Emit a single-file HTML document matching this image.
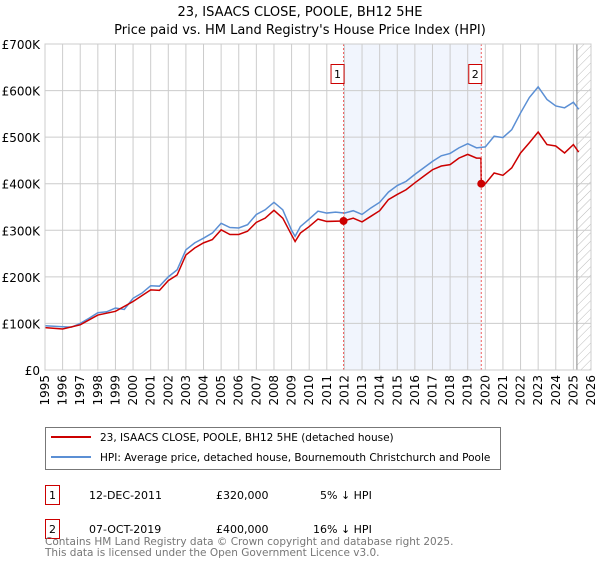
<!DOCTYPE html>
<html><head><meta charset="utf-8"><style>
body{margin:0;background:#fff;font-family:"Liberation Sans","DejaVu Sans",sans-serif;}
svg text{font-family:"DejaVu Sans","Liberation Sans",sans-serif;}
</style></head><body>
<svg id="c" width="600" height="560" xmlns="http://www.w3.org/2000/svg">
<defs><pattern id="hatch" width="6" height="6" patternUnits="userSpaceOnUse" patternTransform="rotate(45)"><line x1="0" y1="0" x2="0" y2="6" stroke="#bbb" stroke-width="1"/></pattern></defs>
<text x="300" y="16" text-anchor="middle" font-size="13">23, ISAACS CLOSE, POOLE, BH12 5HE</text>
<text x="300" y="34" text-anchor="middle" font-size="13">Price paid vs. HM Land Registry's House Price Index (HPI)</text>
<g id="plot"></g>
<g>
<rect x="45.5" y="427.5" width="455" height="42" fill="#fff" stroke="#777"/>
<line x1="51" y1="437" x2="91" y2="437" stroke="#cc0000" stroke-width="2"/>
<text x="100" y="441" font-size="10.5">23, ISAACS CLOSE, POOLE, BH12 5HE (detached house)</text>
<line x1="51" y1="457" x2="91" y2="457" stroke="#5b8fd4" stroke-width="2"/>
<text x="100" y="461" font-size="10.5">HPI: Average price, detached house, Bournemouth Christchurch and Poole</text>
</g>
<g font-size="11">
<rect x="45.5" y="485.5" width="14" height="19" fill="#fff" stroke="#cc0000"/>
<text x="52.5" y="499" text-anchor="middle">1</text>
<text x="89" y="499">12-DEC-2011</text><text x="216" y="499">£320,000</text><text x="320" y="499">5% ↓ HPI</text>
<rect x="45.5" y="519.5" width="14" height="19" fill="#fff" stroke="#cc0000"/>
<text x="52.5" y="533" text-anchor="middle">2</text>
<text x="89" y="533">07-OCT-2019</text><text x="216" y="533">£400,000</text><text x="313" y="533">16% ↓ HPI</text>
</g>
<text x="45" y="545" font-size="10.5" fill="#777">Contains HM Land Registry data © Crown copyright and database right 2025.</text>
<text x="45" y="556" font-size="10.5" fill="#777">This data is licensed under the Open Government Licence v3.0.</text>
</svg>
<script>
const hpiYears=[1995,1996,1996.5,1997,1997.5,1998,1998.5,1999,1999.5,2000,2000.5,2001,2001.5,2002,2002.5,2003,2003.5,2004,2004.5,2005,2005.5,2006,2006.5,2007,2007.5,2008,2008.5,2009,2009.2,2009.5,2010,2010.5,2011,2011.5,2012,2012.5,2013,2013.5,2014,2014.5,2015,2015.5,2016,2016.5,2017,2017.5,2018,2018.5,2019,2019.5,2020,2020.5,2021,2021.5,2022,2022.5,2023,2023.5,2024,2024.5,2025,2025.3];
const hpiValues=[95,93,92,100,111,123,125,133,130,154,165,181,180,200,215,258,273,283,294,315,306,305,312,334,344,360,344,300,287,308,324,341,337,339,337,342,334,348,360,382,396,405,420,434,448,460,465,477,486,477,479,502,499,516,552,585,608,581,567,563,575,560];
const priceYears=[1995,1996,1997,1998,1999,2000,2001,2001.5,2002,2002.5,2003,2003.5,2004,2004.5,2005,2005.5,2006,2006.5,2007,2007.5,2008,2008.5,2009,2009.2,2009.5,2010,2010.5,2011,2011.95,2012.5,2013,2013.5,2014,2014.5,2015,2015.5,2016,2016.5,2017,2017.5,2018,2018.5,2019,2019.5,2019.75,2019.77,2020,2020.5,2021,2021.5,2022,2022.5,2023,2023.5,2024,2024.5,2025,2025.3];
const priceValues=[91,88,97,118,126,147,172,171,192,204,247,262,273,280,301,291,291,298,317,326,343,326,290,276,294,308,324,319,320,326,318,330,342,366,377,387,402,416,430,438,441,455,463,455,455,400,400,423,418,434,466,488,511,484,481,466,484,468];
const saleYears=[2011.95,2019.77];
const saleValues=[320,400];
const saleLabels=["1","2"];
const yTicks=[0,100,200,300,400,500,600,700];
const yTickLabels=["£0","£100K","£200K","£300K","£400K","£500K","£600K","£700K"];
const xTicks=[1995,1996,1997,1998,1999,2000,2001,2002,2003,2004,2005,2006,2007,2008,2009,2010,2011,2012,2013,2014,2015,2016,2017,2018,2019,2020,2021,2022,2023,2024,2025,2026];

const X0=45,X1=591,Y0=370,Y1=44;
const x=v=>X0+(v-1995)*(X1-X0)/31;
const y=v=>Y0-(v/700)*(Y0-Y1);
const NS="http://www.w3.org/2000/svg";
const g=document.getElementById('plot');
function mk(t,a){const e=document.createElementNS(NS,t);for(const k in a)e.setAttribute(k,a[k]);g.appendChild(e);return e;}
let e;
e=mk('rect',{x:x(saleYears[0]),y:Y1,width:x(saleYears[1])-x(saleYears[0]),height:Y0-Y1,fill:'#eef3fc',opacity:0.8});


e=mk('rect',{x:x(2025.2),y:Y1,width:X1-x(2025.2),height:Y0-Y1,fill:'url(#hatch)'});


yTicks.forEach((t,i)=>{
 e=mk('line',{x1:X0,x2:X1,y1:y(t),y2:y(t),stroke:'#ccc'});
 
 
 e=mk('text',{x:40,y:y(t)+5,'text-anchor':'end','font-size':12});
 e.textContent=yTickLabels[i];
 
 
});
xTicks.forEach(t=>{
 e=mk('line',{x1:x(t),x2:x(t),y1:Y1,y2:Y0,stroke:'#ccc'});
 
 
 e=mk('text',{x:0,y:0,'text-anchor':'end','font-size':12,transform:`translate(${x(t)+4},${Y0+5}) rotate(-90)`});
 e.textContent=t;
 
 
});
e=mk('line',{x1:x(2025.2),x2:x(2025.2),y1:Y1,y2:Y0,stroke:'#888'});


e=mk('polyline',{points:hpiYears.map((v,i)=>x(v)+','+y(hpiValues[i])).join(' '),fill:'none',stroke:'#5b8fd4','stroke-width':1.5});


e=mk('polyline',{points:priceYears.map((v,i)=>x(v)+','+y(priceValues[i])).join(' '),fill:'none',stroke:'#cc0000','stroke-width':1.5});


saleYears.forEach((s,i)=>{
 e=mk('line',{x1:x(s),x2:x(s),y1:Y1,y2:Y0,stroke:'#f06060','stroke-dasharray':'2,2'});
 
 
 e=mk('circle',{cx:x(s),cy:y(saleValues[i]),r:4,fill:'#cc0000'});
 
 
 e=mk('rect',{x:x(s)-12.5,y:64.5,width:13,height:19,fill:'#fff',stroke:'#cc0000'});
 
 
 e=mk('text',{x:x(s)-6,y:78,'text-anchor':'middle','font-size':11});
 e.textContent=saleLabels[i];
 
 
});
e=mk('rect',{x:X0,y:Y1,width:X1-X0,height:Y0-Y1,fill:'none',stroke:'#ccc'});


</script>
</body></html>
